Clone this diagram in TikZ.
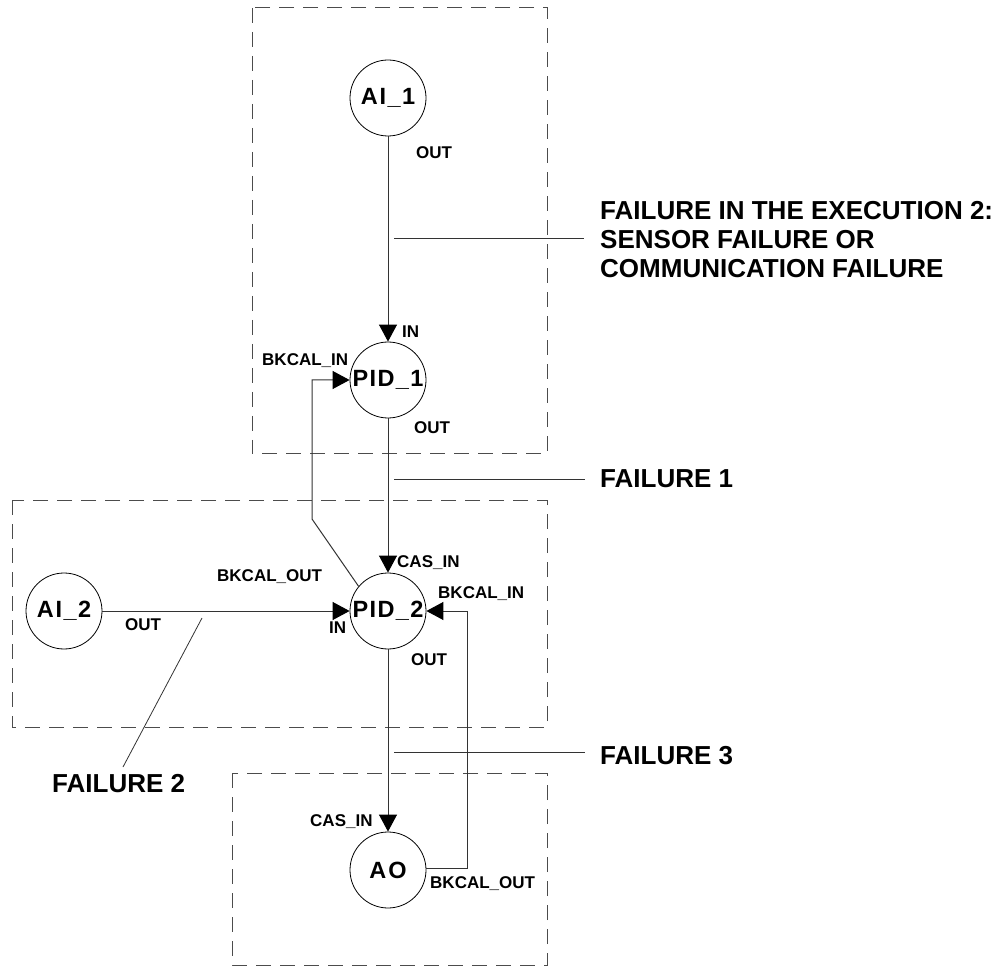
\documentclass[tikz,border=0pt]{standalone}
\usepackage{fontspec}
\setmainfont{Liberation Sans}
\newfontfamily\nodefont{Liberation Sans}[LetterSpace=6]
\usetikzlibrary{arrows.meta}
\begin{document}
\begin{tikzpicture}[x=1pt,y=-1pt,
  blk/.style={draw, circle, minimum size=76pt, inner sep=0pt, line width=0.8pt,
    font=\nodefont\bfseries\fontsize{23.5}{26}\selectfont},
  lbl/.style={inner sep=0pt, anchor=west, font=\bfseries\fontsize{17}{19}\selectfont},
  big/.style={inner sep=0pt, align=left, font=\bfseries\fontsize{26}{29}\selectfont},
  conn/.style={line width=1pt, draw=black!80},
  arr/.style={conn, -{Triangle[length=17pt,width=18pt,color=black]}},
  grp/.style={draw=black!70, line width=1pt, dash pattern=on 15pt off 9pt}]
\useasboundingbox (0,0) rectangle (1005,968);
% group boxes
\draw[grp] (252,8) rectangle (547,454);
\draw[grp] (12,500) rectangle (547,727);
\draw[grp] (232,773) rectangle (547,965);
% blocks
\node[blk] (ai1) at (388,98) {A\hspace{2pt}I\_1};
\node[blk] (pid1) at (388,380) {PID\_1};
\node[blk] (pid2) at (388,611) {PID\_2};
\node[blk] (ai2) at (64,611) {A\hspace{2pt}I\_2};
\node[blk] (ao) at (388,870) {A\hspace{2pt}O};
% connectors
\draw[arr] (ai1) -- (pid1);
\draw[arr] (pid1) -- (pid2);
\draw[arr] (pid2) -- (ao);
\draw[arr] (ai2) -- (pid2);
\coordinate (bk1) at (312,519);
\draw[arr] (pid2.140) -- (bk1) |- (pid1.west);
\coordinate (bk2) at (467,868);
\draw[arr] (ao.east |- bk2) -- (bk2) |- (pid2.east);
% port labels
\node[lbl] (l1) at (416,153) {OUT};
\node[lbl] (l2) at (402,332) {IN};
\node[lbl] (l3) at (262,361) {BKCAL\_IN};
\node[lbl] (l4) at (414,428) {OUT};
\node[lbl] (l5) at (397,563) {CAS\_IN};
\node[lbl] (l6) at (217,577) {BKCAL\_OUT};
\node[lbl] (l7) at (438,594) {BKCAL\_IN};
\node[lbl] (l8) at (329,628) {IN};
\node[lbl] (l9) at (411,660) {OUT};
\node[lbl] (l10) at (125,625) {OUT};
\node[lbl] (l11) at (310,822) {CAS\_IN};
\node[lbl] (l12) at (430,884) {BKCAL\_OUT};
% failure annotations
\node[big, anchor=north west] (fe) at (600,201) {FAILURE IN THE EXECUTION 2:\\SENSOR FAILURE OR\\COMMUNICATION FAILURE};
\coordinate (fes) at (394,238);
\coordinate (fee) at (584,238);
\draw[conn, line width=0.8pt] (fes) -- (fee);
\node[big, anchor=west] (f1) at (600,479) {FAILURE 1};
\coordinate (f1s) at (394,479);
\draw[conn, line width=0.8pt] (f1s) -- ([xshift=-15pt]f1.west);
\node[big, anchor=west] (f3) at (600,756) {FAILURE 3};
\coordinate (f3s) at (394,752);
\coordinate (f3e) at (585,752);
\draw[conn, line width=0.8pt] (f3s) -- (f3e);
\node[big, anchor=west] (f2) at (52,784) {FAILURE 2};
\coordinate (f2s) at (202,618);
\coordinate (f2e) at (123,767);
\draw[conn, line width=0.8pt] (f2s) -- (f2e);
\end{tikzpicture}
\end{document}
